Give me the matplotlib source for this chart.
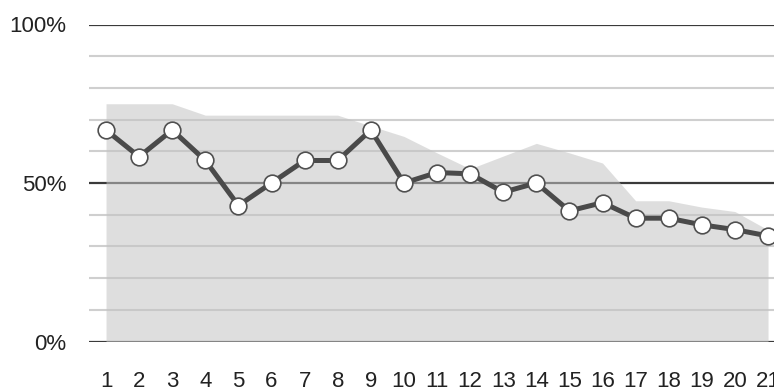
import matplotlib.pyplot as plt

plt.rcParams['font.family'] = ['Liberation Sans', 'DejaVu Sans']

# Rounds and percentages
rounds = list(range(1, 22))
rate = [66.7, 58.3, 66.7, 57.1, 42.9, 50.0, 57.1, 57.1, 66.7, 50.0, 53.3,
        52.9, 47.1, 50.0, 41.2, 43.8, 38.9, 38.9, 36.8, 35.3, 33.3]
band = [75.0, 75.0, 75.0, 71.4, 71.4, 71.4, 71.4, 71.4, 68.0, 64.7, 59.5,
        54.5, 58.5, 62.5, 59.5, 56.3, 44.4, 44.4, 42.4, 41.0, 35.2]
y_ticks = [0, 50, 100]
y_labels = ['0%', '50%', '100%']

fig = plt.figure(figsize=(7.74, 3.88), dpi=100)
ax = fig.add_axes([89 / 774, 46.5 / 388, 685 / 774, 317 / 388])

# horizontal guides: light every 10%, dark at 0/50/100
for v in range(0, 101, 10):
    if v in y_ticks:
        ax.axhline(v, color='#3a3a3a', lw=1.6, zorder=1)
    else:
        ax.axhline(v, color='#cfcfcf', lw=1.5, zorder=1)

ax.fill_between(rounds, 0, band, color='#c4c4c4', alpha=0.55, lw=0, zorder=2)

ax.plot(rounds, rate, color='#4a4a4a', lw=3.6, zorder=3, clip_on=False,
        marker='o', markersize=12, markerfacecolor='white',
        markeredgecolor='#505050', markeredgewidth=1.2)

ax.set_xlim(0.486, 21.18)
ax.set_ylim(0, 100)
ax.set_xticks(rounds)
ax.set_xticklabels([str(r) for r in rounds])
ax.set_yticks(y_ticks)
ax.set_yticklabels(y_labels)
ax.tick_params(length=0, labelsize=16, colors='#222222')
ax.tick_params(axis='y', pad=16.5)
ax.tick_params(axis='x', pad=21)

for spine in ax.spines.values():
    spine.set_visible(False)

plt.savefig('out.png', dpi=100)
